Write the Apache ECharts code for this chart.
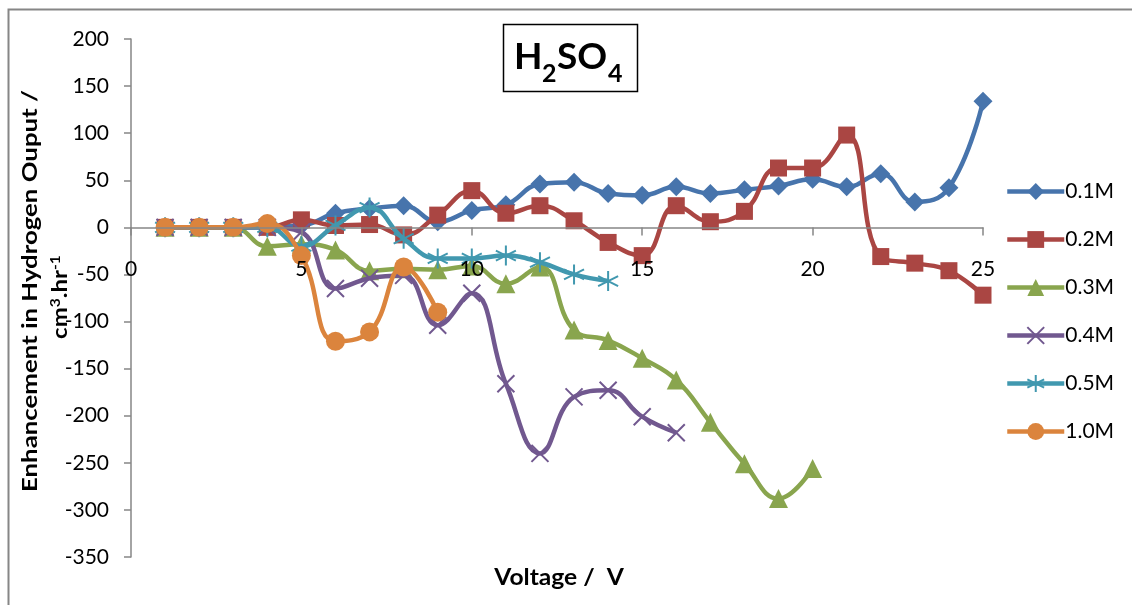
<!DOCTYPE html>
<html>
<head>
<meta charset="utf-8">
<script src="https://cdn.jsdelivr.net/npm/echarts@6/dist/echarts.min.js"></script>
<style>html,body{margin:0;padding:0;background:#fff;}#c{width:1132px;height:605px;}</style>
</head>
<body>
<div id="c"></div>
<script>
const voltages = [1,2,3,4,5,6,7,8,9,10,11,12,13,14,15,16,17,18,19,20,21,22,23,24,25];
const seriesNames = ['0.1M','0.2M','0.3M','0.4M','0.5M','1.0M'];
const s01 = [0,0,0,1,2,15,20,23,6,18,24,46,48,36,34,43,36,40,44,51,43,57,27,42,134];
const s02 = [0,0,0,0,8,2,3,-8,13,39,15,23,7,-16,-30,23,6,17,63,63,98,-31,-38,-46,-72];
const s03 = [0,0,0,-20,-18,-24,-46,-44,-45,-41,-60,-42,-109,-120,-139,-162,-207,-251,-288,-256];
const s04 = [0,0,0,0,-5,-65,-54,-51,-104,-70,-166,-240,-180,-173,-201,-218];
const s05 = [0,0,0,0,-20,2,21,-12,-33,-33,-30,-37,-50,-57];
const s10 = [0,0,0,4,-30,-121,-111,-42,-90];
const yTicks = {min:-350, max:200, interval:50};
const xTicks = {min:0, max:25, interval:5};

const values = [s01,s02,s03,s04,s05,s10];
const colors = ['#4774AC','#AA4643','#89A54E','#71588F','#4198AF','#DB843D'];
const symbols = ['diamond','rect','triangle',
  'path://M0,0L10,10M10,0L0,10',
  'path://M5,0L5,10M0,2.5L10,7.5M0,7.5L10,2.5',
  'circle'];
const sizes = [19,17,19,17,20,19];
const FONT = 'Lato, "Open Sans", sans-serif';

const series = values.map((arr, i) => ({
  name: seriesNames[i],
  type: 'line',
  smooth: 0.45,
  data: arr.map((v, j) => [voltages[j], v]),
  symbol: symbols[i],
  symbolSize: sizes[i],
  showSymbol: true,
  lineStyle: {color: colors[i], width: 4.5},
  itemStyle: (i === 3 || i === 4)
    ? {color: colors[i], borderColor: colors[i], borderWidth: 2}
    : {color: colors[i]},
  emphasis: {disabled: true},
  z: 2 + i
}));

const chart = echarts.init(document.getElementById('c'), null, {renderer: 'canvas'});
chart.setOption({
  animation: false,
  backgroundColor: '#fff',
  grid: {left: 131, right: 149, top: 39, bottom: 48, containLabel: false},
  xAxis: {
    type: 'value', min: xTicks.min, max: xTicks.max, interval: xTicks.interval,
    position: 'bottom', offset: -329.6, z: 20,
    axisLine: {onZero: false, lineStyle: {color: '#868686', width: 1.5}},
    axisTick: {show: true, length: 8, lineStyle: {color: '#868686', width: 1.5}},
    axisLabel: {margin: 31, fontSize: 21, color: '#000', fontFamily: FONT},
    splitLine: {show: false}
  },
  yAxis: {
    type: 'value', min: yTicks.min, max: yTicks.max, interval: yTicks.interval,
    axisLine: {show: true, onZero: false, lineStyle: {color: '#868686', width: 1.5}},
    axisTick: {show: true, length: 7, lineStyle: {color: '#868686', width: 1.5}},
    axisLabel: {margin: 22, fontSize: 21, color: '#000', fontFamily: FONT},
    splitLine: {show: false}
  },
  legend: {
    orient: 'vertical', left: 1000, top: 176,
    itemWidth: 57, itemHeight: 21, itemGap: 27,
    lineStyle: {width: 4.5},
    textStyle: {fontSize: 21, color: '#000', fontFamily: FONT, padding: [0,0,0,-4]},
    data: seriesNames
  },
  series: series,
  graphic: [
    {type: 'rect', shape: {x: 8.5, y: 9.5, width: 1200, height: 700}, style: {fill: 'none', stroke: '#868686', lineWidth: 2}, silent: true, z: 0},
    {type: 'rect', shape: {x: 503.5, y: 24.5, width: 134, height: 67}, style: {fill: '#fff', stroke: '#000', lineWidth: 1.5}, z: 10},
    {type: 'text', x: 514, y: 57, style: {text: 'H', font: 'bold 37px ' + FONT, fill: '#000', textVerticalAlign: 'middle'}, z: 11},
    {type: 'text', x: 542, y: 74, style: {text: '2', font: 'bold 25px ' + FONT, fill: '#000', textVerticalAlign: 'middle'}, z: 11},
    {type: 'text', x: 557, y: 57, style: {text: 'SO', font: 'bold 37px ' + FONT, fill: '#000', textVerticalAlign: 'middle'}, z: 11},
    {type: 'text', x: 608, y: 74, style: {text: '4', font: 'bold 25px ' + FONT, fill: '#000', textVerticalAlign: 'middle'}, z: 11},
    {type: 'text', x: 31, y: 291, rotation: Math.PI / 2, scaleX: 1.29,
      style: {text: 'Enhancement in Hydrogen Ouput /', font: 'bold 20px ' + FONT, fill: '#000', textAlign: 'center', textVerticalAlign: 'middle'}, z: 11},
    {type: 'text', x: 60, y: 297, rotation: Math.PI / 2, scaleX: 1.2,
      style: {text: '{b|cm}{s|3}{b|.hr}{s|-1}', textAlign: 'center', textVerticalAlign: 'middle',
        rich: {b: {font: 'bold 20px ' + FONT, fill: '#000', lineHeight: 22, verticalAlign: 'bottom'},
               s: {font: 'bold 13px ' + FONT, fill: '#000', lineHeight: 22, verticalAlign: 'top'}}}, z: 11},
    {type: 'text', x: 559, y: 578, scaleX: 1.07,
      style: {text: 'Voltage /  V', font: 'bold 23px ' + FONT, fill: '#000', textAlign: 'center', textVerticalAlign: 'middle'}, z: 11}
  ]
});
</script>
</body>
</html>
